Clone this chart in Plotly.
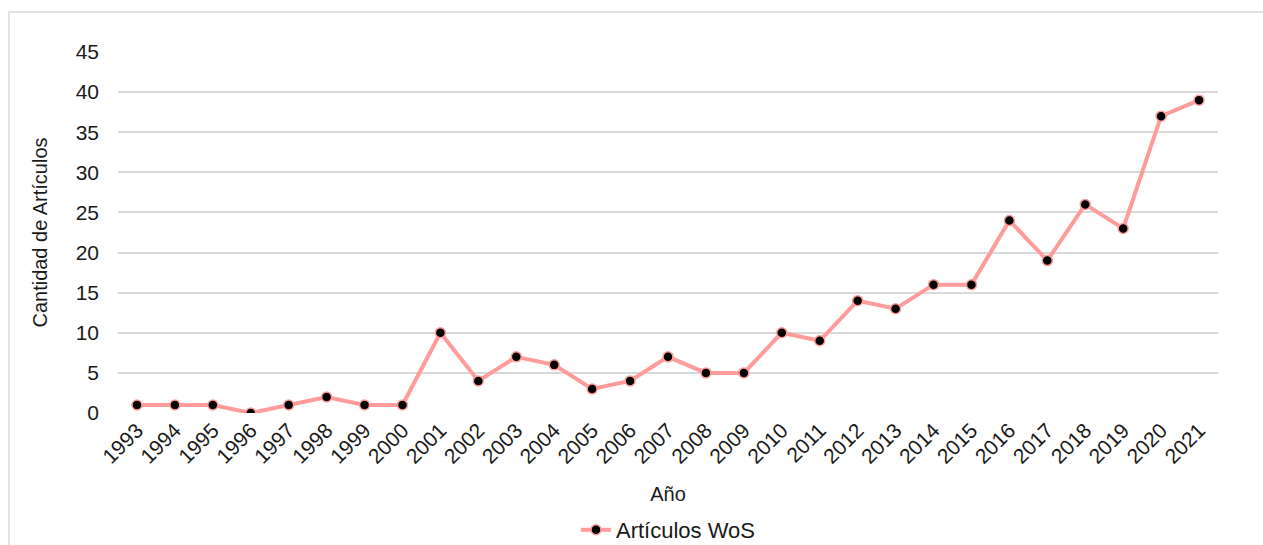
import plotly.graph_objects as go

years = [str(y) for y in range(1993, 2022)]
articulos = [1, 1, 1, 0, 1, 2, 1, 1, 10, 4, 7, 6, 3, 4, 7, 5, 5, 10, 9, 14, 13, 16, 16, 24, 19, 26, 23, 37, 39]
y_ticks = [0, 5, 10, 15, 20, 25, 30, 35, 40, 45]

FONT = "Liberation Sans, Arial, sans-serif"
TICK_FS = 21
TITLE_FS = 20
LEG_FS = 22

fig = go.Figure()
fig.add_trace(go.Scatter(
    x=years, y=articulos, mode="lines+markers", name="Artículos WoS",
    line=dict(color="#FF9B9B", width=4),
    marker=dict(color="black", size=10, line=dict(color="#FF9B9B", width=1.5)),
))

fig.update_layout(
    width=1263, height=545,
    margin=dict(l=118, r=45, t=52, b=132),
    paper_bgcolor="white", plot_bgcolor="white",
    font=dict(family=FONT, size=TICK_FS, color="#1a1a1a"),
    showlegend=True,
    legend=dict(orientation="h", x=0.5, xanchor="center",
                yref="container", y=15/545, yanchor="middle",
                font=dict(size=LEG_FS), bgcolor="rgba(0,0,0,0)"),
    xaxis=dict(
        type="category", range=[-0.5, len(years) - 0.5],
        tickangle=-45, showgrid=False, zeroline=False,
        showline=False, ticks="", tickfont=dict(size=TICK_FS), automargin=False,
        title=dict(text="Año", font=dict(size=TITLE_FS), standoff=20),
    ),
    yaxis=dict(
        range=[0, 45], tickvals=y_ticks, showgrid=True, gridcolor="#d9d9d9",
        gridwidth=1.5, zeroline=False, showline=False, ticks="",
        tickfont=dict(size=TICK_FS), ticklabelstandoff=18, automargin=False,
        title=dict(text="Cantidad de Artículos", font=dict(size=TITLE_FS), standoff=22),
    ),
    shapes=[dict(type="rect", xref="paper", yref="paper",
                 x0=-0.0991, x1=1.2, y0=-0.6, y1=1.1108,
                 line=dict(color="#d9d9d9", width=1.5), layer="below")],
)

fig.write_html("out.html", config={"displayModeBar": False},
               post_script="document.body.style.margin='0';document.body.style.overflow='hidden';")
